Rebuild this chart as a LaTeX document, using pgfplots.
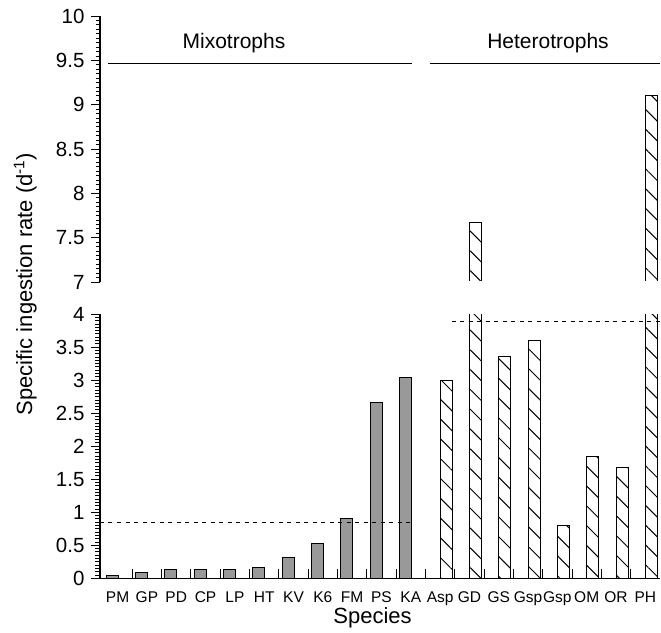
\documentclass[border=0pt]{standalone}
\usepackage{fontspec}
\setmainfont{Liberation Sans}
\usepackage{pgfplots}
\pgfplotsset{compat=1.18}
\usetikzlibrary{patterns.meta}
\definecolor{barg}{gray}{0.6}

\pgfplotsset{
  brk/.style={
    scale only axis, width=560pt, xmin=-0.6, xmax=18.5,
    axis y line*=left,
    tick align=outside,
    major tick length=9pt, minor tick length=4.5pt,
    minor y tick num=9,
    tick style={black, line width=0.8pt},
    axis line style={line width=1.1pt},
    y tick label style={font=\fontsize{20.5}{20.5}\selectfont, xshift=-3pt},
    /pgf/number format/assume math mode=true,
    clip=true,
  },
  mixo/.style={ybar, bar width=12pt, bar shift=-5.4pt, draw=black, line width=1pt, fill=barg},
  het/.style={ybar, bar width=12pt, bar shift=6pt, draw=black, line width=1pt,
    pattern={Lines[angle=-45,distance=14pt,line width=1pt]}, pattern color=black},
}

\begin{document}
\begin{tikzpicture}
\path[use as bounding box] (0,0) rectangle (661pt,-632pt);

% lower axis
\begin{axis}[brk, at={(100pt,-578.3pt)}, anchor=south west, height=264.3pt,
  ymin=0, ymax=4,
  axis x line*=bottom,
  ytick={0,0.5,...,4}, yticklabels={0,0.5,1,1.5,2,2.5,3,3.5,4},
  xtick={0,...,18},
  xticklabels={PM,GP,PD,CP,LP,HT,KV,K6,FM,PS,KA,Asp,GD,GS,Gsp,Gsp,OM,OR,PH},
  xtick style={draw=none},
  x tick label style={font=\fontsize{15.5}{16}\selectfont, yshift=-0.5pt},
  xlabel={Species},
  xlabel style={at={(axis description cs:0.4866,-0.1718)}, anchor=base, font=\fontsize{22}{22}\selectfont},
  ylabel={Specific ingestion rate (d\textsuperscript{-1})},
  ylabel style={at={(axis description cs:-0.1214,1.1135)}, anchor=base, font=\fontsize{22}{22}\selectfont},
]
\addplot[mixo] coordinates {(0,0.05) (1,0.09) (2,0.14) (3,0.14) (4,0.14) (5,0.17) (6,0.31) (7,0.52) (8,0.91) (9,2.66) (10,3.04)};
\addplot[het] coordinates {(11,3.00) (12,7.67) (13,3.35) (14,3.60) (15,0.80) (16,1.84) (17,1.68) (18,9.10)};
\addplot[ycomb, no marks, line width=0.8pt] coordinates {(0.5,0.14) (1.5,0.14) (2.5,0.14) (3.5,0.14) (4.5,0.14) (5.5,0.14) (6.5,0.14) (7.5,0.14) (8.5,0.14) (9.5,0.14) (10.5,0.14) (11.5,0.14) (12.5,0.14) (13.5,0.14) (14.5,0.14) (15.5,0.14) (16.5,0.14) (17.5,0.14)};
\addplot[no marks, line width=1pt, dash pattern=on 4pt off 4.5pt] coordinates {(-0.6,0.84) (9.97,0.84)};
\addplot[no marks, line width=1pt, dash pattern=on 4pt off 4.5pt] coordinates {(11.39,3.88) (18.5,3.88)};
\end{axis}

% upper axis
\begin{axis}[brk, at={(100pt,-282pt)}, anchor=south west, height=266pt,
  ymin=7, ymax=10,
  axis x line=none,
  ytick={7,7.5,...,10}, yticklabels={7,7.5,8,8.5,9,9.5,10},
]
\addplot[het, restrict y to domain=7:20] coordinates {(11,3.00) (12,7.67) (13,3.35) (14,3.60) (15,0.80) (16,1.84) (17,1.68) (18,9.10)};
% hide the base edge of the broken bars
\addplot[no marks, white, line width=2.5pt] coordinates {(11.5,7) (18.5,7)};
\addplot[no marks, line width=1.2pt] coordinates {(-0.33,9.46) (10.03,9.46)};
\addplot[no marks, line width=1.2pt] coordinates {(10.65,9.46) (18.5,9.46)};
\node[anchor=base, font=\fontsize{21}{21}\selectfont] at (axis cs:3.97,9.636) {Mixotrophs};
\node[anchor=base, font=\fontsize{21}{21}\selectfont] at (axis cs:14.68,9.636) {Heterotrophs};
\end{axis}
\end{tikzpicture}
\end{document}
